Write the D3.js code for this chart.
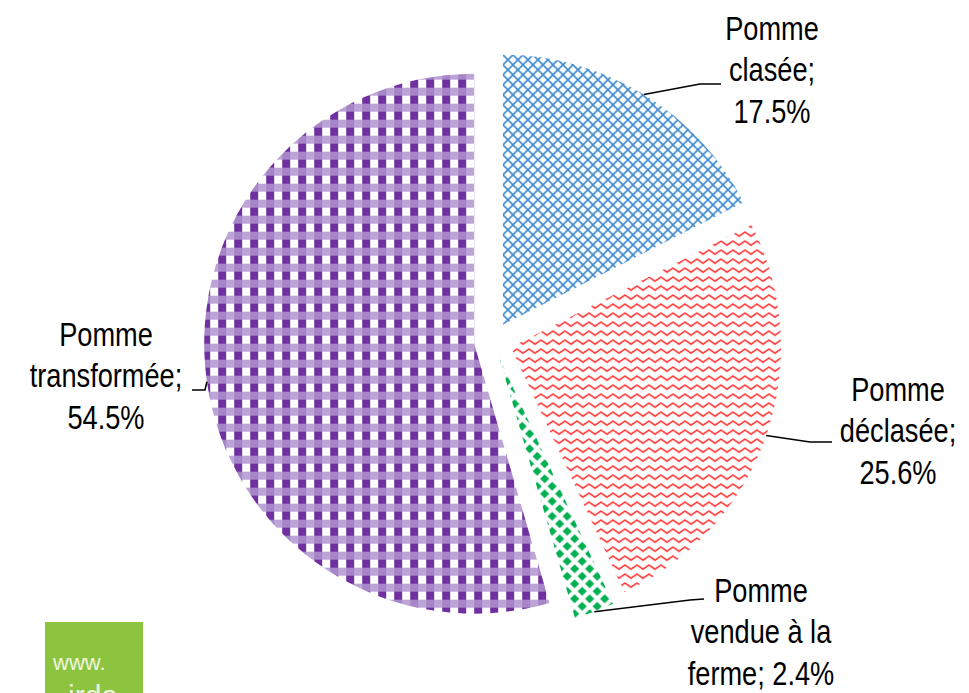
<!DOCTYPE html>
<html>
<head>
<meta charset="utf-8">
<script src="https://cdn.jsdelivr.net/npm/d3@7"></script>
<style>
  html, body { margin: 0; padding: 0; background: #ffffff; }
  svg { display: block; }
  .lbl { font-family: 'Liberation Sans', Arial, sans-serif; font-size: 34px; fill: #000; }
</style>
</head>
<body>
<div id="chart"></div>
<script>
// chart data
const categories = ['Pomme clasée', 'Pomme déclasée', 'Pomme vendue à la ferme', 'Pomme transformée']
const values = [17.5, 25.6, 2.4, 54.5]
const labelLines = [
  ['Pomme', 'clasée;', '17.5%'],
  ['Pomme', 'déclasée;', '25.6%'],
  ['Pomme', 'vendue à la', 'ferme; 2.4%'],
  ['Pomme', 'transformée;', '54.5%']
]

const width = 969
const height = 693
const cx = 493
const cy = 341
const radius = 270
const explode = 19
const narrow = 0.8 // the original font is a condensed sans

// where each label block sits (center x, first baseline) and the leader elbow
const labelLayout = [
  { x: 772, y: 40, elbow: [700, 84], end: [721, 84] },
  { x: 898, y: 401, elbow: [810, 442], end: [832, 442] },
  { x: 761, y: 602, elbow: [690, 600], end: [704, 599] },
  { x: 106, y: 346, elbow: [205, 390], end: [192, 390] }
]

const svg = d3.select('#chart')
  .append('svg')
  .attr('width', width)
  .attr('height', height)

const defs = svg.append('defs')

// blue cross hatch
const pBlue = defs.append('pattern')
  .attr('id', 'p0').attr('patternUnits', 'userSpaceOnUse')
  .attr('width', 10).attr('height', 10)
pBlue.append('rect').attr('width', 10).attr('height', 10).attr('fill', '#fff')
pBlue.append('path')
  .attr('d', 'M-1,-1L11,11M11,-1L-1,11')
  .attr('stroke', '#3f8ad0').attr('stroke-width', 1.6).attr('fill', 'none')

// red zigzag waves
const pRed = defs.append('pattern')
  .attr('id', 'p1').attr('patternUnits', 'userSpaceOnUse')
  .attr('width', 12).attr('height', 9)
pRed.append('rect').attr('width', 12).attr('height', 9).attr('fill', '#fff')
pRed.append('path')
  .attr('d', 'M-3,3.5L0,6L6,2L12,6L15,3.5')
  .attr('stroke', '#ff3030').attr('stroke-width', 1.5).attr('fill', 'none')

// green diamonds
const pGreen = defs.append('pattern')
  .attr('id', 'p2').attr('patternUnits', 'userSpaceOnUse')
  .attr('width', 15).attr('height', 15)
pGreen.append('rect').attr('width', 15).attr('height', 15).attr('fill', '#fff')
const dm = 4.6
;[[0, 0], [15, 0], [0, 15], [15, 15], [7.5, 7.5]].forEach(([x, y]) => {
  pGreen.append('path')
    .attr('d', `M${x},${y - dm}L${x + dm},${y}L${x},${y + dm}L${x - dm},${y}Z`)
    .attr('fill', '#00b050')
})

// purple gingham
const pPurple = defs.append('pattern')
  .attr('id', 'p3').attr('patternUnits', 'userSpaceOnUse')
  .attr('width', 16).attr('height', 16)
pPurple.append('rect').attr('width', 16).attr('height', 16).attr('fill', '#fff')
pPurple.append('rect').attr('x', 0).attr('y', 0).attr('width', 16).attr('height', 8).attr('fill', '#bca4d6')
pPurple.append('rect').attr('x', 0).attr('y', 0).attr('width', 8).attr('height', 8).attr('fill', '#a686c8')
pPurple.append('rect').attr('x', 0).attr('y', 8).attr('width', 8).attr('height', 8).attr('fill', '#7030a0')

const pie = d3.pie().sort(null).value(d => d)
const arcs = pie(values)
const arc = d3.arc().innerRadius(0).outerRadius(radius)

const g = svg.append('g').attr('transform', `translate(${cx},${cy})`)

arcs.forEach((a, i) => {
  const mid = (a.startAngle + a.endAngle) / 2
  const dx = Math.sin(mid) * explode
  const dy = -Math.cos(mid) * explode
  g.append('path')
    .attr('d', arc(a))
    .attr('transform', `translate(${dx},${dy})`)
    .attr('fill', `url(#p${i})`)

  // leader line from the outer edge of the slice
  const sx = cx + dx + Math.sin(mid) * radius
  const sy = cy + dy - Math.cos(mid) * radius
  const lay = labelLayout[i]
  svg.append('polyline')
    .attr('points', [[sx, sy], lay.elbow, lay.end].map(p => p.join(',')).join(' '))
    .attr('fill', 'none')
    .attr('stroke', '#000')
    .attr('stroke-width', 1.5)

  const t = svg.append('g')
    .attr('transform', `translate(${lay.x},0) scale(${narrow},1)`)
    .append('text')
    .attr('class', 'lbl')
    .attr('text-anchor', 'middle')
  labelLines[i].forEach((line, k) => {
    t.append('tspan')
      .attr('x', 0)
      .attr('y', lay.y + k * 41.5)
      .text(line)
  })
})

// logo corner
svg.append('rect')
  .attr('x', 45).attr('y', 622)
  .attr('width', 98).attr('height', 80)
  .attr('fill', '#8cc43f')
svg.append('text')
  .attr('x', 53).attr('y', 670)
  .attr('style', "font-family: 'Liberation Sans', sans-serif; font-size: 22px; fill: #eef5e0")
  .text('www.')
svg.append('text')
  .attr('x', 68).attr('y', 706)
  .attr('style', "font-family: 'Liberation Sans', sans-serif; font-size: 30px; fill: #eef5e0")
  .text('irda')
</script>
</body>
</html>
